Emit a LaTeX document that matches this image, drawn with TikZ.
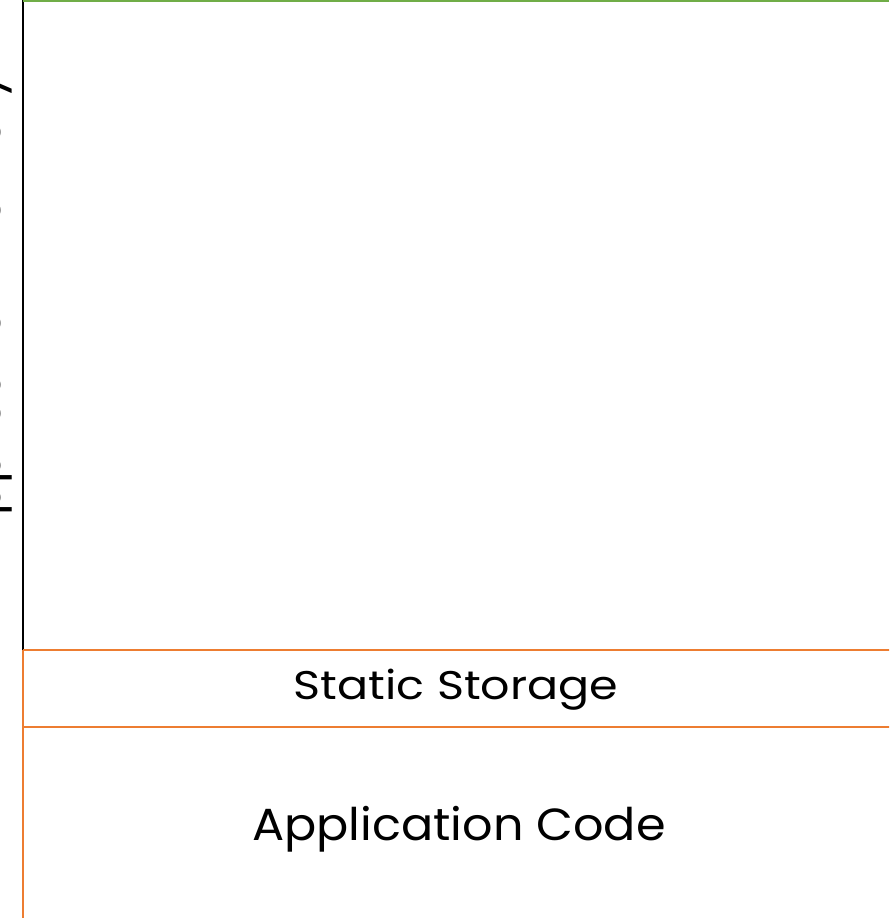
\documentclass[tikz,border=0pt]{standalone}
\usepackage{fontspec}
\setmainfont{Poppins}
\definecolor{memgreen}{HTML}{70AD47}
\definecolor{memorange}{HTML}{ED7D31}
\tikzset{
  seg/.style={line width=2.5pt, memorange},
  lbl/.style={inner sep=0pt, anchor=base, text=black},
}
\begin{document}
\begin{tikzpicture}[x=1pt,y=-1pt]
\useasboundingbox (0,0) rectangle (889,918);
\clip (0,0) rectangle (889,918);
% memory column
\draw[line width=2.5pt, black] (23,0) -- (23,650);
\draw[line width=2.5pt, memgreen] (23,1) -- (889,1);
% static storage / code
\draw[seg] (23,650) -- (895,650);
\draw[seg] (23,727) -- (895,727);
\draw[seg] (23,650) -- (23,925);
\node[lbl, font=\fontsize{40}{48}\selectfont] (static) at (456,699) {\scalebox{1.15}[1]{Static Storage}};
\node[lbl, font=\fontsize{45}{54}\selectfont] (code) at (459,840) {\scalebox{1.06}[1]{Application Code}};
\node[lbl, rotate=90, font=\fontsize{45}{54}\selectfont] (mem) at (0,310) {\scalebox{1.05}[1]{Application Memory}};
\end{tikzpicture}
\end{document}
